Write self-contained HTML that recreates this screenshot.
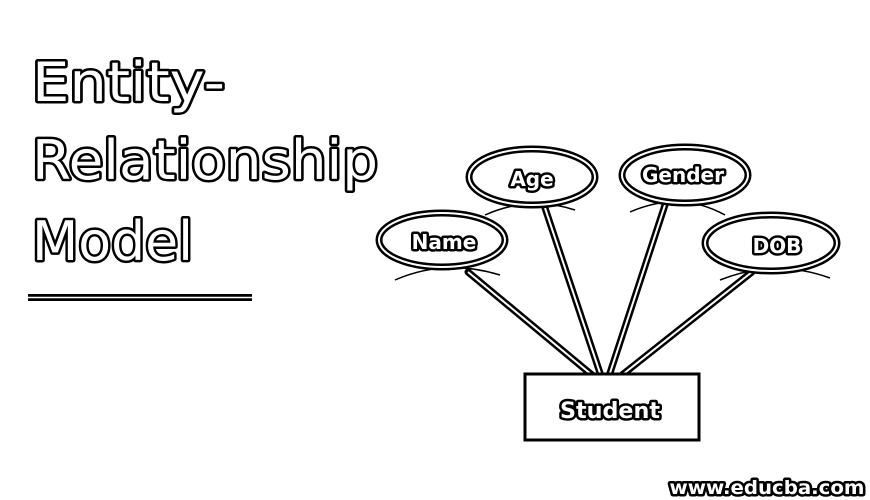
<!DOCTYPE html>
<html><head><style>html,body{margin:0;padding:0;background:#fff;}svg{display:block}</style></head>
<body>
<svg width="870" height="500" viewBox="0 0 870 500" xmlns="http://www.w3.org/2000/svg" font-family="DejaVu Sans, Liberation Sans, sans-serif" font-weight="bold">
<g fill="#fff" stroke="#000" stroke-width="5" paint-order="stroke" stroke-linejoin="round" font-weight="normal">
<text x="32" y="101" font-size="54" textLength="193" lengthAdjust="spacingAndGlyphs">Entity-</text>
<text x="32" y="179" font-size="54" textLength="346" lengthAdjust="spacingAndGlyphs">Relationship</text>
<text x="32" y="260" font-size="54" textLength="161" lengthAdjust="spacingAndGlyphs">Model</text>
</g>
<rect x="28" y="294" width="224" height="7" fill="#000"/>
<line x1="28" y1="297.5" x2="252" y2="297.5" stroke="#fff" stroke-width="1.5"/>
<g fill="none" stroke="#000" stroke-width="1.5">
<path d="M485 215 Q530 195 575 210"/><path d="M630 212 Q680 190 725 215"/>
<path d="M395 280 Q445 258 500 275"/><path d="M720 280 Q775 258 830 278"/>
</g>
<g stroke="#000" stroke-width="7" stroke-linecap="round">
<line x1="468" y1="272" x2="592" y2="375"/><line x1="545" y1="208" x2="600" y2="373"/>
<line x1="665" y1="205" x2="610" y2="373"/><line x1="752" y1="272" x2="622" y2="375"/>
</g>
<g stroke="#fff" stroke-width="2">
<line x1="468" y1="272" x2="592" y2="375"/><line x1="545" y1="208" x2="600" y2="373"/>
<line x1="665" y1="205" x2="610" y2="373"/><line x1="752" y1="272" x2="622" y2="375"/>
</g>
<g fill="#fff" stroke="#000" stroke-width="7">
<ellipse cx="532" cy="177" rx="63" ry="28"/><ellipse cx="685" cy="175" rx="63" ry="28"/>
<ellipse cx="442" cy="240" rx="63" ry="27"/><ellipse cx="771" cy="243" rx="66" ry="28"/>
</g>
<g fill="none" stroke="#fff" stroke-width="2">
<ellipse cx="532" cy="177" rx="63" ry="28"/><ellipse cx="685" cy="175" rx="63" ry="28"/>
<ellipse cx="442" cy="240" rx="63" ry="27"/><ellipse cx="771" cy="243" rx="66" ry="28"/>
</g>
<rect x="525" y="374" width="174" height="66" fill="#fff" stroke="#000" stroke-width="3"/>
<g fill="#fff" stroke="#000" stroke-width="5" paint-order="stroke" stroke-linejoin="round" text-anchor="middle">
<text x="532" y="186" font-size="20">Age</text>
<text x="683" y="182" font-size="20">Gender</text>
<text x="444" y="249" font-size="20">Name</text>
<text x="777" y="253" font-size="20">DOB</text>
<text x="610" y="418" font-size="22" textLength="100" lengthAdjust="spacingAndGlyphs">Student</text>
<text x="767" y="494" font-size="19" textLength="195" lengthAdjust="spacingAndGlyphs">www.educba.com</text>
</g>
</svg>
</body></html>
